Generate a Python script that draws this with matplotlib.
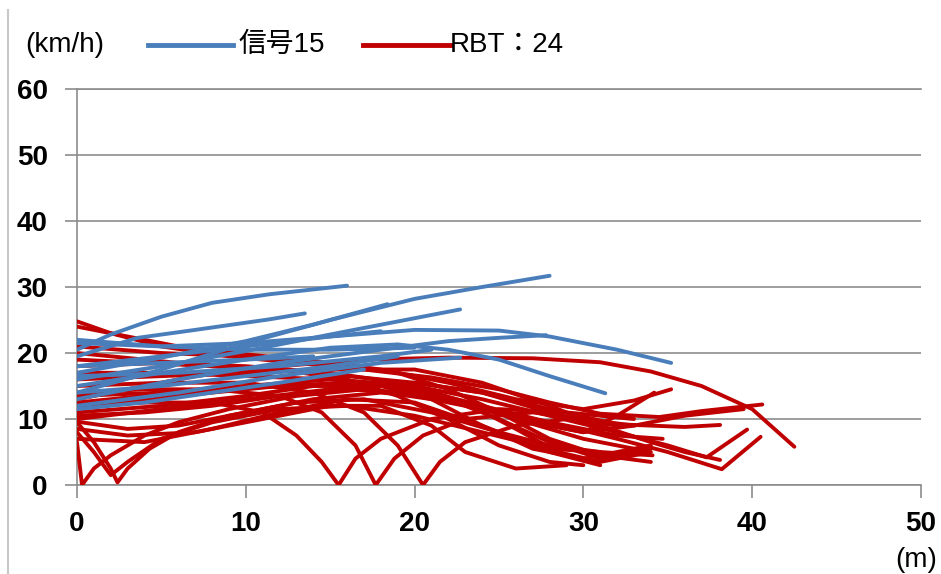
import matplotlib
matplotlib.use("Agg")
import matplotlib.pyplot as plt
from matplotlib.lines import Line2D

plt.rcParams['font.family'] = ['Liberation Sans', 'Noto Sans CJK JP', 'DejaVu Sans']

# 信号交差点の走行軌跡 (距離 m, 速度 km/h)
sig01_m = [0, 5, 10, 15, 20, 24, 28]
sig01_kmh = [14, 17.5, 21.5, 25, 28.2, 30, 31.7]
sig02_m = [0, 2, 5, 8, 11.4, 16]
sig02_kmh = [20.5, 22.8, 25.5, 27.6, 28.9, 30.2]
sig03_m = [0, 3.6, 7, 11.4, 13.5]
sig03_kmh = [19.5, 22.3, 23.5, 25.1, 26]
sig04_m = [0, 5, 10, 14, 18.4]
sig04_kmh = [17, 19.3, 21.8, 24.3, 27.4]
sig05_m = [0, 5, 10, 16, 22.7]
sig05_kmh = [16, 18, 20.3, 23.3, 26.6]
sig06_m = [0, 5, 10, 15, 20, 25, 28, 32, 35.2]
sig06_kmh = [18, 19.5, 21, 22.5, 23.5, 23.4, 22.5, 20.5, 18.5]
sig07_m = [0, 6, 12, 18, 22, 25, 27.8]
sig07_kmh = [13, 16, 18.5, 20.5, 21.8, 22.3, 22.7]
sig08_m = [0, 5, 10, 15, 19, 22, 25, 28, 31.3]
sig08_kmh = [15, 17, 19, 20.8, 21.3, 20.5, 19, 16.5, 13.9]
sig09_m = [0, 6, 12, 18, 22.7]
sig09_kmh = [12, 14, 16.5, 18.5, 19.3]
sig10_m = [0, 5, 10, 15, 20]
sig10_kmh = [21.5, 21, 20.5, 20.5, 20.8]
sig11_m = [0, 5, 10, 15, 19]
sig11_kmh = [14, 15, 16.5, 18, 19.5]
sig12_m = [0, 5, 10, 14]
sig12_kmh = [18, 18.5, 19, 19.5]
sig13_m = [0, 4, 8, 12, 17]
sig13_kmh = [11.5, 12.5, 14, 15.5, 17.5]
sig14_m = [0, 6, 12, 18, 21]
sig14_kmh = [16.5, 17, 18, 19.5, 20.5]
sig15_m = [0, 5, 10, 15, 18]
sig15_kmh = [22, 21, 21.5, 22.5, 23.3]

# ラウンドアバウトの走行軌跡
rbt01_m = [0, 3, 7, 12, 17, 22, 27, 31, 34, 37, 40, 42.5]
rbt01_kmh = [13, 14.5, 16.5, 18, 19, 19.3, 19.2, 18.6, 17.2, 15, 11.5, 5.8]
rbt02_m = [0, 2, 5, 9, 13, 17, 21, 25, 28, 31, 34.5, 37, 40.6]
rbt02_kmh = [24.8, 23, 21, 19.5, 18.5, 17.5, 16.3, 14.5, 12.5, 10.8, 10.3, 11.2, 12.2]
rbt03_m = [0, 3, 6, 10, 14, 18, 22, 26, 30, 33, 35.2]
rbt03_kmh = [24, 22.5, 21, 19.8, 18.8, 17.5, 15.5, 13, 11.5, 12.8, 14.5]
rbt04_m = [0, 4, 8, 12, 16, 20, 24, 28, 32, 36, 38.1]
rbt04_kmh = [19, 18.5, 18, 17.5, 16.5, 15.5, 14, 11.5, 9.2, 8.8, 9.1]
rbt05_m = [0, 5, 10, 15, 20, 24, 28, 32, 35, 37.3, 39.7]
rbt05_kmh = [13.5, 14, 15, 16, 15, 13, 10.5, 8, 6, 4.2, 8.4]
rbt06_m = [0, 4, 8, 12, 16, 20, 24, 28, 32, 35, 38.2, 40.5]
rbt06_kmh = [12.2, 13, 14, 15, 15.5, 14.5, 12, 9.5, 7, 5, 2.4, 7.3]
rbt07_m = [0, 5, 10, 15, 20, 24, 28, 31, 34, 36, 38.1]
rbt07_kmh = [10, 11.5, 13, 14.5, 15.5, 14, 11, 9, 6.5, 5, 3.8]
rbt08_m = [0, 0.3, 1, 2, 4, 6, 9, 13, 17, 21, 25, 29, 32, 34.7]
rbt08_kmh = [6.5, 0, 2.5, 4.5, 7.5, 9.5, 11.5, 13.5, 14.5, 13, 11, 9, 7.5, 7]
rbt09_m = [0, 1, 2, 2.4, 3, 4.3, 6, 9, 13, 17, 21, 25, 28, 31, 34.1]
rbt09_kmh = [9.5, 6.5, 2.5, 0.4, 2.5, 5.5, 8, 10.5, 12.5, 13, 11, 8, 6, 5, 4.5]
rbt10_m = [0, 1, 2, 3, 5, 8, 12, 16, 20, 24, 28, 31]
rbt10_kmh = [8, 5, 1.5, 3.5, 7, 9.5, 11.5, 12, 10.5, 8, 5.5, 5]
rbt11_m = [0, 4, 8, 11, 13, 14.5, 15.5, 16.5, 18, 21, 25, 29, 33]
rbt11_kmh = [12, 12.5, 12.5, 11, 7.5, 3.5, 0, 4, 7, 10, 11.5, 11, 10]
rbt12_m = [0, 4, 8, 12, 14.5, 16.5, 17.7, 18.8, 20.5, 23, 27, 30, 33]
rbt12_kmh = [14, 14.5, 14.5, 13.5, 11, 6, 0, 4, 7.5, 10, 11, 10, 9]
rbt13_m = [0, 5, 10, 14, 17, 19, 20.5, 21.5, 23, 26, 29, 32]
rbt13_kmh = [15, 15.5, 15.5, 14, 11, 6, 0, 3.5, 6.5, 9, 10, 9]
rbt14_m = [0, 3, 6, 10, 14, 18, 22, 26, 30, 33]
rbt14_kmh = [9.6, 8.5, 9, 11, 13, 14, 13, 10, 7, 5.5]
rbt15_m = [0, 4, 8, 12, 16, 20, 24, 28, 31]
rbt15_kmh = [7, 6.5, 8.5, 11, 13, 12.5, 9, 5, 3]
rbt16_m = [0, 5, 10, 15, 19, 22, 25, 28, 31, 34]
rbt16_kmh = [18, 18.5, 18, 17, 15.5, 13, 10, 6.5, 4, 5.5]
rbt17_m = [0, 5, 10, 15, 20, 24, 28, 32]
rbt17_kmh = [16, 16.5, 17, 17.5, 17.5, 15.5, 12, 8]
rbt18_m = [0, 4, 8, 12, 16, 19, 22, 25, 28, 30]
rbt18_kmh = [20, 19, 18, 17.5, 16, 13.5, 10, 6, 3.5, 3]
rbt19_m = [0, 5, 10, 14, 18, 21, 24, 27, 30, 34]
rbt19_kmh = [11, 12, 13.5, 15, 15, 13, 9, 5.5, 4, 6]
rbt20_m = [0, 3, 7, 11, 15, 18, 21, 23, 26, 29]
rbt20_kmh = [8.5, 7.5, 8, 10, 12, 12, 9, 5, 2.5, 3]
rbt21_m = [0, 5, 10, 15, 20, 23, 26, 28.5, 31, 34]
rbt21_kmh = [17, 17, 16.5, 16, 15, 12.5, 8.5, 5, 3.5, 5]
rbt22_m = [0, 6, 12, 17, 21, 24, 27, 30, 33, 36, 39.5]
rbt22_kmh = [12.5, 14, 15, 15.5, 14, 12, 9.5, 8, 9, 10.5, 11.5]
rbt23_m = [0, 5, 10, 15, 19, 22, 25, 28, 31, 34]
rbt23_kmh = [21, 20, 19.5, 18.5, 17, 14.5, 11, 7, 4.5, 3.5]
rbt24_m = [0, 4, 8, 12, 16, 20, 24, 27, 30, 32, 34.2]
rbt24_kmh = [10.5, 11, 12, 13.5, 14.5, 14, 12, 9.5, 8, 10.5, 14]

signal_runs = [
    (sig01_m, sig01_kmh), (sig02_m, sig02_kmh), (sig03_m, sig03_kmh),
    (sig04_m, sig04_kmh), (sig05_m, sig05_kmh), (sig06_m, sig06_kmh),
    (sig07_m, sig07_kmh), (sig08_m, sig08_kmh), (sig09_m, sig09_kmh),
    (sig10_m, sig10_kmh), (sig11_m, sig11_kmh), (sig12_m, sig12_kmh),
    (sig13_m, sig13_kmh), (sig14_m, sig14_kmh), (sig15_m, sig15_kmh),
]
rbt_runs = [
    (rbt01_m, rbt01_kmh), (rbt02_m, rbt02_kmh), (rbt03_m, rbt03_kmh),
    (rbt04_m, rbt04_kmh), (rbt05_m, rbt05_kmh), (rbt06_m, rbt06_kmh),
    (rbt07_m, rbt07_kmh), (rbt08_m, rbt08_kmh), (rbt09_m, rbt09_kmh),
    (rbt10_m, rbt10_kmh), (rbt11_m, rbt11_kmh), (rbt12_m, rbt12_kmh),
    (rbt13_m, rbt13_kmh), (rbt14_m, rbt14_kmh), (rbt15_m, rbt15_kmh),
    (rbt16_m, rbt16_kmh), (rbt17_m, rbt17_kmh), (rbt18_m, rbt18_kmh),
    (rbt19_m, rbt19_kmh), (rbt20_m, rbt20_kmh), (rbt21_m, rbt21_kmh),
    (rbt22_m, rbt22_kmh), (rbt23_m, rbt23_kmh), (rbt24_m, rbt24_kmh),
]

x_ticks = [0, 10, 20, 30, 40, 50]
y_ticks = [0, 10, 20, 30, 40, 50, 60]

BLUE = '#4A7EBB'
RED = '#C00000'
GRID = '#8C8C8C'

fig = plt.figure(figsize=(9.41, 5.74), dpi=100, facecolor='white')
ax = fig.add_axes([0.0818, 0.155, 0.8969, 0.690])

for d, v in rbt_runs:
    ax.plot(d, v, color=RED, lw=2.8, solid_capstyle='round', solid_joinstyle='round', zorder=3)
for d, v in signal_runs:
    ax.plot(d, v, color=BLUE, lw=2.8, solid_capstyle='round', solid_joinstyle='round', zorder=4)

ax.set_xlim(0, 50)
ax.set_ylim(0, 60)
ax.set_xticks(x_ticks)
ax.set_yticks(y_ticks)
ax.set_xticklabels([str(t) for t in x_ticks], fontsize=20, fontweight='bold')
ax.set_yticklabels([str(t) for t in y_ticks], fontsize=20, fontweight='bold')
ax.tick_params(axis='both', direction='out', length=9, width=1.2, color=GRID, pad=10)
ax.tick_params(axis='y', pad=12)
ax.grid(axis='y', color=GRID, lw=1.2, zorder=0)
ax.set_axisbelow(True)
for side in ['top', 'right']:
    ax.spines[side].set_visible(False)
for side in ['left', 'bottom']:
    ax.spines[side].set_color(GRID)
    ax.spines[side].set_linewidth(1.2)
ax.axhline(60, color=GRID, lw=1.2, zorder=0, clip_on=False)

# 単位と凡例
fig.text(25 / 941, 1 - 45 / 574, '(km/h)', fontsize=20, va='center', ha='left')
fig.text(937 / 941, 1 - 560 / 574, '(m)', fontsize=20, va='center', ha='right')

fig.add_artist(Line2D([148 / 941, 233 / 941], [1 - 45 / 574] * 2, color=BLUE, lw=3.5))
fig.text(238 / 941, 1 - 45 / 574, '信号15', fontsize=20, va='center', ha='left')
fig.add_artist(Line2D([363 / 941, 450 / 941], [1 - 45 / 574] * 2, color=RED, lw=3.5))
fig.text(450 / 941, 1 - 45 / 574, 'RBT：24', fontsize=20, va='center', ha='left')

# 左側の枠線
fig.add_artist(Line2D([8 / 941, 8 / 941], [0, 1 - 10 / 574], color='#C8C8C8', lw=1.5))

fig.savefig('out.png', dpi=100, facecolor='white')
